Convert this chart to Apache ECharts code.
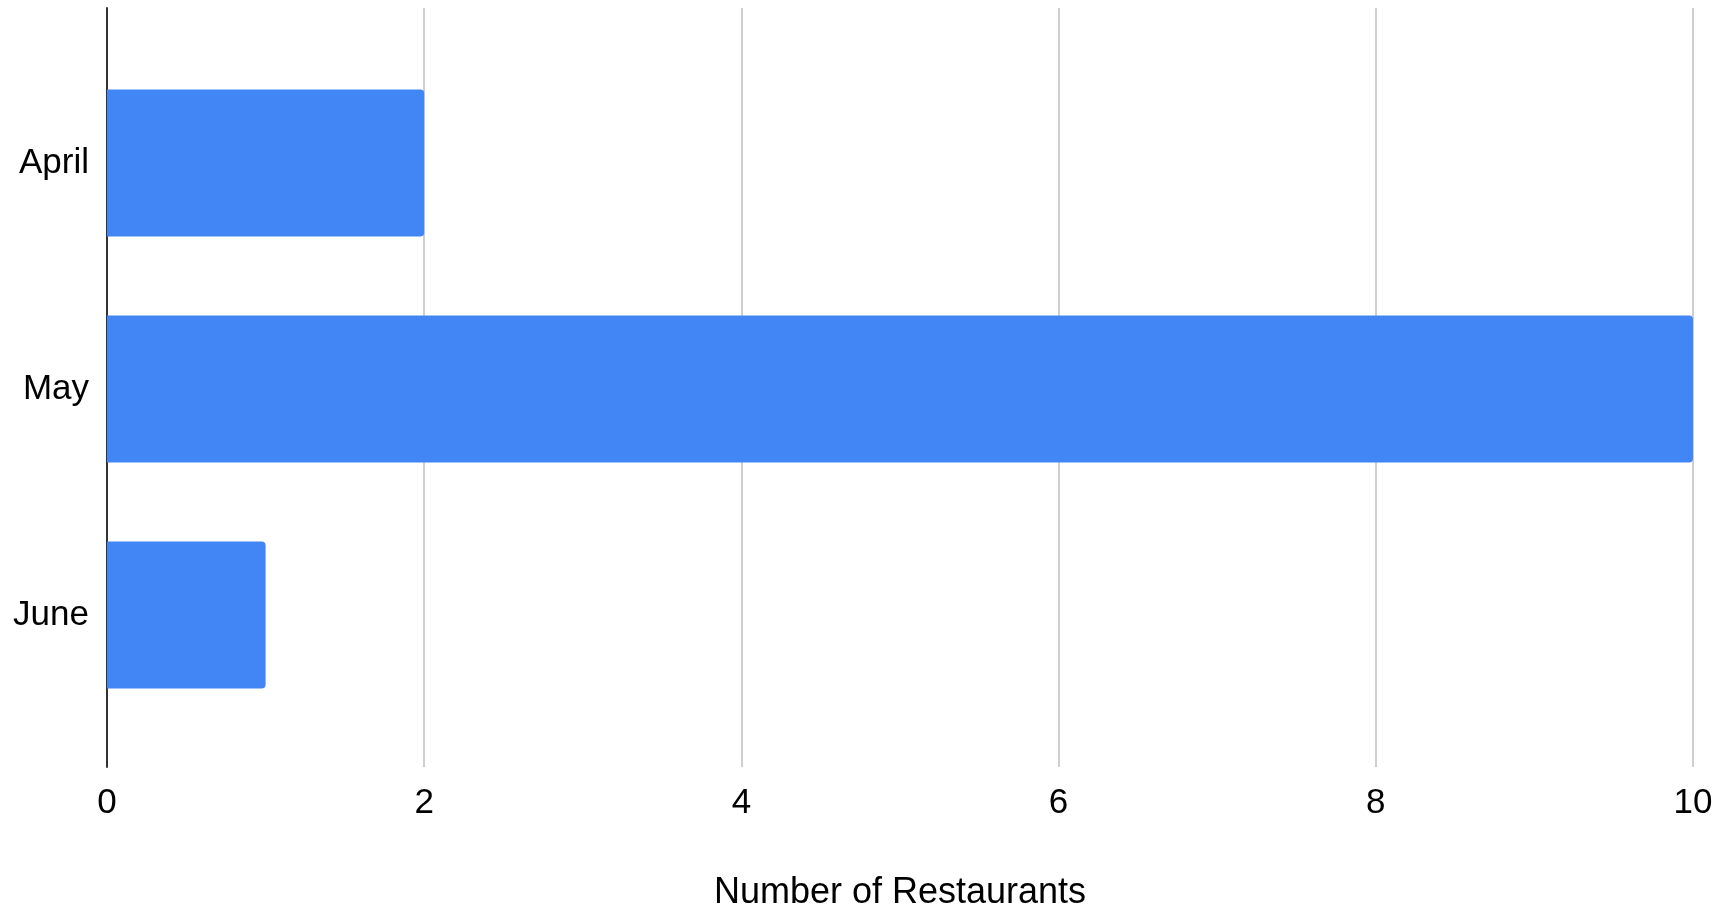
<!DOCTYPE html>
<html>
<head>
<meta charset="utf-8">
<script src="https://cdn.jsdelivr.net/npm/echarts@6/dist/echarts.min.js"></script>
<style>html,body{margin:0;padding:0;background:#fff}#c{width:1731px;height:909px}</style>
</head>
<body>
<div id="c"></div>
<script>
const categories = ['April', 'May', 'June'];
const restaurants = [2, 10, 1];
const xTicks = [0, 2, 4, 6, 8, 10];
const xTitle = 'Number of Restaurants';

const FONT = '"Liberation Sans", Arial, sans-serif';
const chart = echarts.init(document.getElementById('c'));
chart.setOption({
  animation: false,
  grid: [
    { left: 107, right: 38, top: 8, bottom: 142, containLabel: false, outerBoundsMode: 'none' },
    { left: 107, right: 38, top: 50, bottom: 181, containLabel: false, outerBoundsMode: 'none' }
  ],
  xAxis: [
    {
      gridIndex: 0, type: 'value', min: xTicks[0], max: xTicks[xTicks.length - 1], interval: 2,
      axisLine: { show: false }, axisTick: { show: false },
      splitLine: { show: true, lineStyle: { color: '#cfcfcf', width: 2 } },
      axisLabel: { margin: 19, fontSize: 35, color: '#000', fontFamily: FONT },
      name: xTitle, nameLocation: 'middle', nameGap: 108,
      nameTextStyle: { fontSize: 36, color: '#000', fontFamily: FONT }
    },
    {
      gridIndex: 1, type: 'value', min: xTicks[0], max: xTicks[xTicks.length - 1], interval: 2,
      show: false
    }
  ],
  yAxis: [
    {
      gridIndex: 0, type: 'value', min: 0, max: 1,
      axisLine: { show: true, onZero: false, lineStyle: { color: '#333', width: 2 } },
      axisTick: { show: false }, axisLabel: { show: false }, splitLine: { show: false }
    },
    {
      gridIndex: 1, type: 'category', data: categories, inverse: true,
      axisLine: { show: false }, axisTick: { show: false }, splitLine: { show: false },
      axisLabel: { margin: 18, fontSize: 35, color: '#000', fontFamily: FONT }
    }
  ],
  series: [{
    type: 'bar', xAxisIndex: 1, yAxisIndex: 1, data: restaurants,
    barCategoryGap: '35%',
    itemStyle: { color: '#4285F4', borderRadius: [0, 4, 4, 0] }
  }]
});
</script>
</body>
</html>
